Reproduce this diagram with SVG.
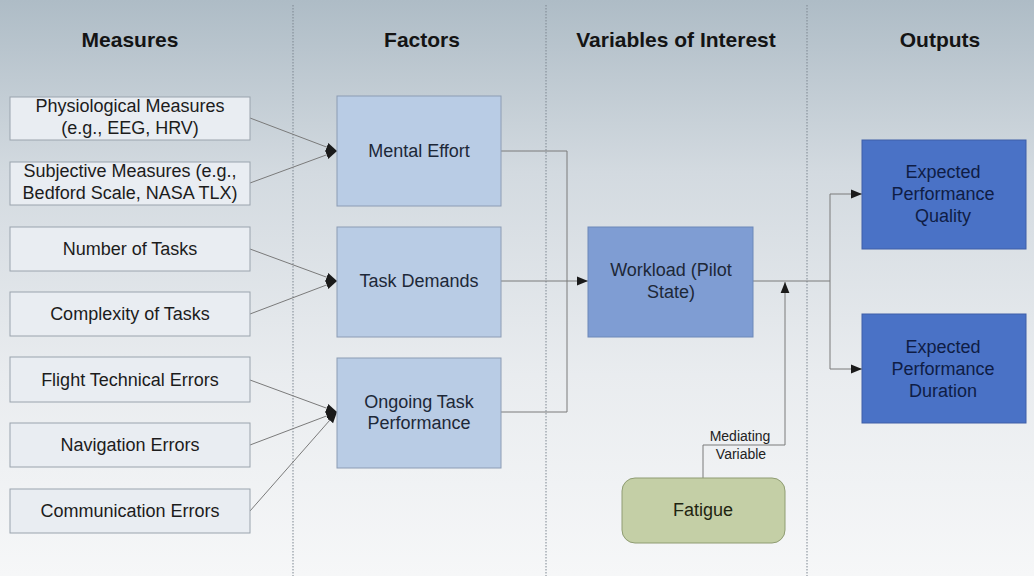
<svg xmlns="http://www.w3.org/2000/svg" width="1034" height="576" viewBox="0 0 1034 576">
<defs>
<linearGradient id="bg" x1="0" y1="0" x2="0" y2="1">
<stop offset="0" stop-color="#aebcc6"/>
<stop offset="0.3" stop-color="#d3dae0"/>
<stop offset="0.65" stop-color="#e9ecef"/>
<stop offset="1" stop-color="#f6f7f8"/>
</linearGradient>
<marker id="ah" viewBox="0 0 10 10" refX="10" refY="5" markerWidth="11" markerHeight="11" markerUnits="userSpaceOnUse" orient="auto">
<path d="M0,1 L10,5 L0,9 Z" fill="#1a1a1a"/>
</marker>
<style>
.hdr{font-family:"Liberation Sans",Arial,sans-serif;font-weight:bold;font-size:21px;fill:#141414;text-anchor:middle}
.t{font-family:"Liberation Sans",Arial,sans-serif;font-size:18px;text-anchor:middle}
.meas{fill:#e9edf2;stroke:#9aa3ad;stroke-width:1}
.fac{fill:#b9cce5;stroke:#8c9cb4;stroke-width:1}
.mt{fill:#1c1c1c}
.ft{fill:#1d2838}
.wl{fill:#7f9dd3;stroke:#6d88b8;stroke-width:1}
.out{fill:#4a72c6;stroke:#3e5fa8;stroke-width:1}
.ot{fill:#0f1d45}
.div{stroke:#7d8690;stroke-width:1;stroke-dasharray:1.5 1.5}
.c{fill:none;stroke:#7a7a7a;stroke-width:1}
.ca{fill:none;stroke:#7a7a7a;stroke-width:1;marker-end:url(#ah)}
.lbl{font-family:"Liberation Sans",Arial,sans-serif;font-size:14px;text-anchor:middle;fill:#222}
</style>
</defs>
<rect width="1034" height="576" fill="url(#bg)"/>
<g id="dividers">
<line class="div" x1="293" y1="5" x2="293" y2="576"/>
<line class="div" x1="546" y1="5" x2="546" y2="576"/>
<line class="div" x1="807" y1="5" x2="807" y2="576"/>
</g>
<g id="headers">
<text class="hdr" x="130" y="47">Measures</text>
<text class="hdr" x="422" y="47">Factors</text>
<text class="hdr" x="676" y="47">Variables of Interest</text>
<text class="hdr" x="940" y="47">Outputs</text>
</g>
<g id="connectors">
<line class="ca" x1="250" y1="118" x2="337" y2="151"/>
<line class="ca" x1="250" y1="183" x2="337" y2="151"/>
<line class="ca" x1="250" y1="249" x2="337" y2="281"/>
<line class="ca" x1="250" y1="314" x2="337" y2="281"/>
<line class="ca" x1="250" y1="380" x2="337" y2="412"/>
<line class="ca" x1="250" y1="445" x2="337" y2="412"/>
<line class="ca" x1="250" y1="511" x2="337" y2="412"/>
<polyline class="c" points="501,151 567,151 567,412 501,412"/>
<line class="ca" x1="501" y1="281" x2="588" y2="281"/>
<line class="c" x1="753" y1="281" x2="830" y2="281"/>
<polyline class="ca" points="830,281 830,194 862,194"/>
<polyline class="ca" points="830,281 830,369 862,369"/>
<polyline class="ca" points="703,478 703,445 785,445 785,282"/>
<text class="lbl" x="740" y="441">Mediating</text>
<text class="lbl" x="741" y="459">Variable</text>
</g>
<g id="physiological"><rect class="meas" x="10" y="97" width="240" height="43"/><text class="t mt" x="130" y="112">Physiological Measures</text><text class="t mt" x="130" y="134">(e.g., EEG, HRV)</text></g>
<g id="subjective"><rect class="meas" x="10" y="162" width="240" height="43"/><text class="t mt" x="130" y="177">Subjective Measures (e.g.,</text><text class="t mt" x="130" y="199">Bedford Scale, NASA TLX)</text></g>
<g id="number-of-tasks"><rect class="meas" x="10" y="227" width="240" height="44"/><text class="t mt" x="130" y="255">Number of Tasks</text></g>
<g id="complexity"><rect class="meas" x="10" y="292" width="240" height="44"/><text class="t mt" x="130" y="320">Complexity of Tasks</text></g>
<g id="flight-technical"><rect class="meas" x="10" y="357" width="240" height="45"/><text class="t mt" x="130" y="386">Flight Technical Errors</text></g>
<g id="navigation"><rect class="meas" x="10" y="423" width="240" height="44"/><text class="t mt" x="130" y="451">Navigation Errors</text></g>
<g id="communication"><rect class="meas" x="10" y="489" width="240" height="44"/><text class="t mt" x="130" y="517">Communication Errors</text></g>
<g id="mental-effort"><rect class="fac" x="337" y="96" width="164" height="110"/><text class="t ft" x="419" y="157">Mental Effort</text></g>
<g id="task-demands"><rect class="fac" x="337" y="227" width="164" height="110"/><text class="t ft" x="419" y="287">Task Demands</text></g>
<g id="ongoing"><rect class="fac" x="337" y="358" width="164" height="110"/><text class="t ft" x="419" y="408">Ongoing Task</text><text class="t ft" x="419" y="429">Performance</text></g>
<g id="workload"><rect class="wl" x="588" y="227" width="165" height="110"/><text class="t ft" x="671" y="276">Workload (Pilot</text><text class="t ft" x="671" y="298">State)</text></g>
<g id="quality"><rect class="out" x="862" y="140" width="164" height="109"/><text class="t ot" x="943" y="178">Expected</text><text class="t ot" x="943" y="200">Performance</text><text class="t ot" x="943" y="222">Quality</text></g>
<g id="duration"><rect class="out" x="862" y="314" width="164" height="109"/><text class="t ot" x="943" y="353">Expected</text><text class="t ot" x="943" y="375">Performance</text><text class="t ot" x="943" y="397">Duration</text></g>
<g id="fatigue"><rect x="622" y="478" width="163" height="65" rx="13" fill="#c4cfa6" stroke="#8f9c72" stroke-width="1"/><text class="t" x="703" y="516" fill="#1f2410">Fatigue</text></g>
</svg>
